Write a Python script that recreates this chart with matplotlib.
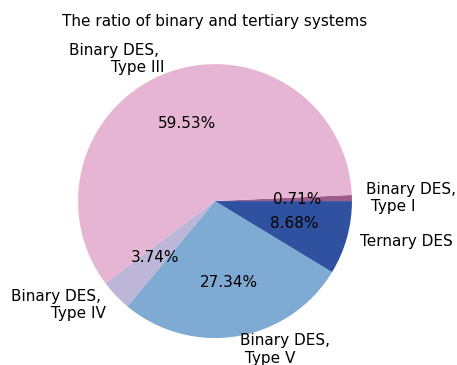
import matplotlib
matplotlib.use("Agg")
import matplotlib.pyplot as plt

labels = ["Binary DES,\n Type I", "Binary DES, \n Type III", "Binary DES, \n Type IV",
          "Binary DES,\n Type V", "Ternary DES"]
shares = [0.71, 59.53, 3.74, 27.34, 8.68]
colors = ["#9e5a8a", "#e6b5d3", "#bdb6d9", "#7eaad4", "#2f51a0"]

plt.rcParams["font.size"] = 11

fig = plt.figure(figsize=(4.57, 3.65), dpi=100)
ax = fig.add_axes([0.0957, -0.0199, 0.7495, 0.938])
ax.pie(shares, labels=labels, colors=colors, autopct="%.2f%%")
ax.set_title("The ratio of binary and tertiary systems", fontsize=11, pad=3)
fig.savefig("out.png", dpi=100)
